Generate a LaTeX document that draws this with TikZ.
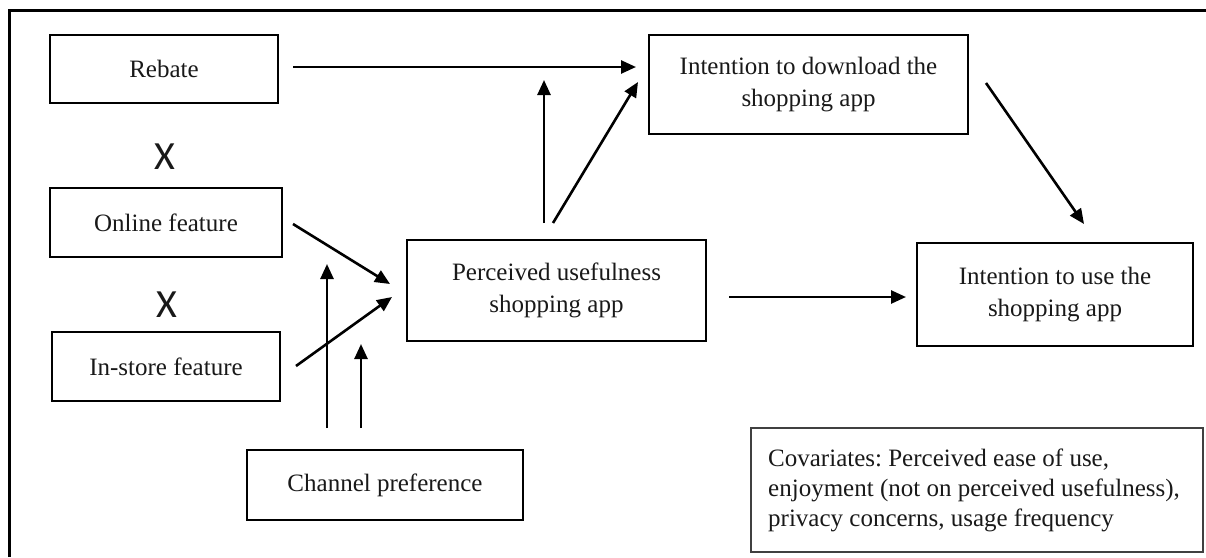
\documentclass[tikz,border=0pt]{standalone}
\usepackage{fontspec}
\setmainfont{Liberation Serif}
\newfontfamily\xfont{Carlito}
\usetikzlibrary{arrows.meta}
\tikzset{
  box/.style={draw=black, line width=2.8pt, rectangle, inner sep=0pt, align=center,
    font=\fontsize{25}{32}\selectfont\frenchspacing, text=black!90},
  covbox/.style={draw=black!75, line width=1.5pt, rectangle, inner sep=0pt},
  arr/.style={line width=2.6pt, -{Triangle[length=15pt,width=13pt]}},
  xsym/.style={inner sep=0pt, font=\xfont\fontsize{40}{40}\selectfont, text=black!90}
}
\begin{document}
\begin{tikzpicture}[x=1pt,y=-1pt]
\useasboundingbox (0,0) rectangle (1206,557);
% outer frame (top and left edges visible)
\draw[line width=3pt] (9,557) -- (9,10) -- (1206,10);

% boxes
\node[box, minimum width=228pt, minimum height=68pt] (rebate) at (164,69) {Rebate};
\node[xsym] (x1) at (165,157) {X};
\node[box, minimum width=232pt, minimum height=69pt] (online) at (166,222.5) {Online feature};
\node[xsym] (x2) at (167,305) {X};
\node[box, minimum width=228pt, minimum height=69pt] (instore) at (166,366.5) {In-store feature};
\node[box, minimum width=276pt, minimum height=70pt] (channel) at (385,485) {Channel preference};
\node[box, minimum width=299pt, minimum height=101pt] (pu) at (556.5,290.5) {Perceived usefulness\\shopping app};
\node[box, minimum width=319pt, minimum height=99pt] (download) at (808.5,84.5) {Intention to download the\\shopping app};
\node[box, minimum width=276pt, minimum height=103pt] (use) at (1055,294.5) {Intention to use the\\shopping app};
\node[covbox, minimum width=452pt, minimum height=124pt] (cov) at (977,490) {};
\node[anchor=west, align=left, inner sep=0pt, font=\fontsize{25}{30}\selectfont\frenchspacing, text=black!90]
  (covtext) at (768,490) {Covariates: Perceived ease of use,\\enjoyment (not on perceived usefulness),\\privacy concerns, usage frequency};

% connector end points
\coordinate (r1) at (293,67);  \coordinate (r2) at (636,67);
\coordinate (o1) at (293,224); \coordinate (o2) at (390,284);
\coordinate (i1) at (296,366); \coordinate (i2) at (392,297);
\coordinate (c1) at (327,428); \coordinate (c2) at (327,264);
\coordinate (c3) at (361,428); \coordinate (c4) at (361,344);
\coordinate (p1) at (544,223); \coordinate (p2) at (544,80);
\coordinate (p3) at (553,223); \coordinate (p4) at (638,82);
\coordinate (d1) at (986,83);  \coordinate (d2) at (1084,224);
\coordinate (u1) at (729,297); \coordinate (u2) at (906,297);

\draw[arr] (r1) -- (r2);
\draw[arr] (o1) -- (o2);
\draw[arr] (i1) -- (i2);
\draw[arr] (c1) -- (c2);
\draw[arr] (c3) -- (c4);
\draw[arr] (p1) -- (p2);
\draw[arr] (p3) -- (p4);
\draw[arr] (d1) -- (d2);
\draw[arr] (u1) -- (u2);
\end{tikzpicture}
\end{document}
